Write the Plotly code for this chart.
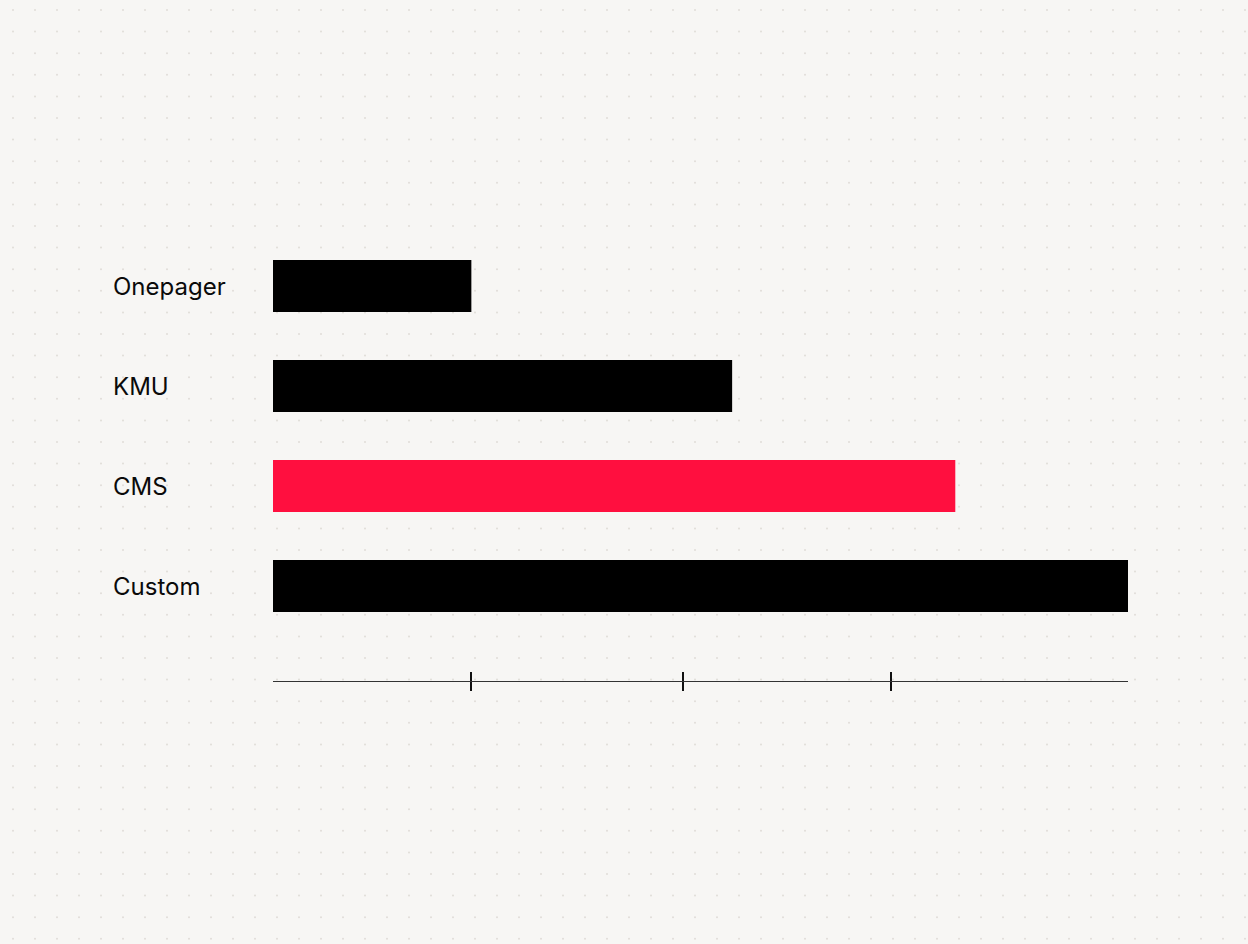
import numpy as np
import plotly.graph_objects as go

# bar chart data
categories = ["Onepager", "KMU", "CMS", "Custom"]
values = [23.2, 53.7, 79.8, 100.0]
bar_colors = ["#000000", "#000000", "#ff0f3f", "#000000"]
tick_positions = [23.2, 47.9, 72.3]

W, H = 1248, 944
BG = "#f7f6f4"

fig = go.Figure()

# faint dotted background grid (decoration only), on the base subplot so it sits behind the bars
gx, gy = np.meshgrid(np.arange(13, W, 22), np.arange(10, H, 21.6))
fig.add_trace(go.Scatter(
    x=gx.ravel(), y=gy.ravel(), mode="markers",
    marker=dict(size=2, color="#e0ddd8"),
    xaxis="x", yaxis="y", hoverinfo="skip", showlegend=False,
))

fig.add_trace(go.Bar(
    x=values, y=categories, orientation="h",
    marker=dict(color=bar_colors, line_width=0),
    xaxis="x2", yaxis="y2",
    showlegend=False, hoverinfo="skip",
))

# empty trace so the overlay axis with upward ticks exists
fig.add_trace(go.Scatter(x=[None], y=[None], xaxis="x3", yaxis="y2",
                         showlegend=False, hoverinfo="skip"))

x0, x1 = 273 / W, 1128 / W
y_bot, y_top = 1 - 681 / H, 1 - 186 / H

axis_common = dict(
    range=[0, 100], domain=[x0, x1], showgrid=False, zeroline=False,
    tickvals=tick_positions, showticklabels=False,
    tickcolor="#111111", tickwidth=1.5, ticklen=9,
)

for cat in categories:
    fig.add_annotation(
        x=111 / W, xref="paper", xanchor="left",
        y=cat, yref="y2", yanchor="middle",
        text=cat, showarrow=False,
        font=dict(family="Inter", size=24, color="#0a0a0a"),
    )

fig.update_layout(
    width=W, height=H,
    margin=dict(l=0, r=0, t=0, b=0),
    paper_bgcolor=BG, plot_bgcolor="rgba(0,0,0,0)",
    bargap=0.48,
    xaxis=dict(range=[0, W], domain=[0, 1], visible=False, anchor="y"),
    yaxis=dict(range=[H, 0], domain=[0, 1], visible=False, anchor="x"),
    xaxis2=dict(**axis_common, anchor="y2", showline=True, linecolor="#333333",
                linewidth=1.2, ticks="outside"),
    xaxis3=dict(**axis_common, overlaying="x2", anchor="y2", ticks="inside",
                showline=False),
    yaxis2=dict(domain=[y_bot, y_top], anchor="x2", categoryorder="array",
                categoryarray=categories, range=[3.95, -1.0],
                showgrid=False, zeroline=False, showticklabels=False,
                showline=False),
)

fig.write_html("out.html", config={"displayModeBar": False},
               post_script="document.body.style.margin='0';")
